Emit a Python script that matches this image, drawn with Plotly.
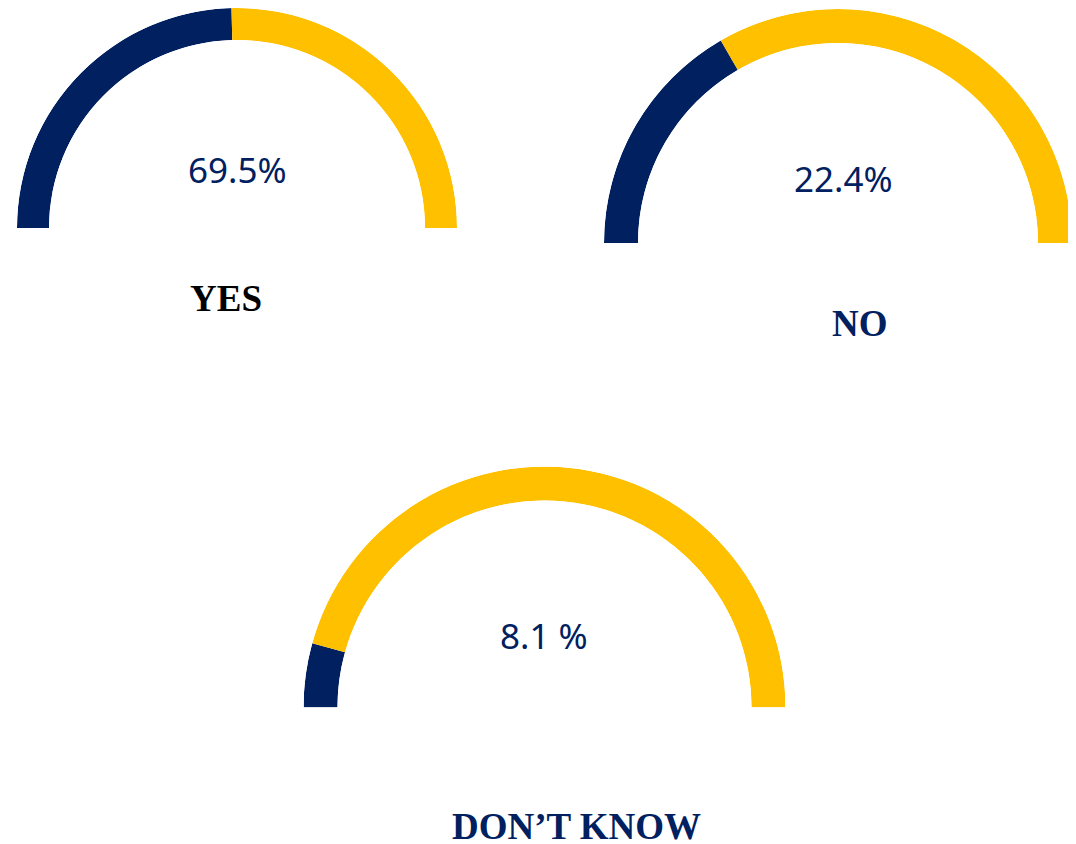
import plotly.graph_objects as go

categories = ["YES", "NO", "DON\u2019T KNOW"]
value_labels = ["69.5%", "22.4%", "8.1 %"]
# share of the half ring drawn in navy
navy_arc_pct = [49.2, 33.3, 8.6]

NAVY = "#002060"
GOLD = "#FFC000"

# the page body has an 8px margin, so the figure is a bit smaller than the window
OFF = 8
W, H = 1068, 836

# gauge placement in window pixels: centre x, flat-bottom y, outer radius, ring thickness
gauges = [
    (237, 228, 220, 32),
    (838, 243, 234, 34),
    (544.5, 707.5, 241, 34),
]
value_pos = [(237, 169.5), (843, 178.7), (543.7, 635)]
label_pos = [(225.5, 298), (859.5, 323), (576, 826)]
label_colors = ["black", NAVY, NAVY]


def px_x(x):
    return min(max((x - OFF) / W, 0), 1)


def px_y(y):
    return min(max(1 - (y - OFF) / H, 0), 1)


fig = go.Figure()
layout_polars = {}

for i, (cat, pct) in enumerate(zip(categories, navy_arc_pct)):
    navy_deg = 180 * pct / 100
    rest_deg = 180 - navy_deg
    name = "polar" if i == 0 else f"polar{i + 1}"
    fig.add_trace(go.Barpolar(
        r=[1, 1],
        theta=[navy_deg / 2, navy_deg + rest_deg / 2],
        width=[navy_deg, rest_deg],
        marker=dict(color=[NAVY, GOLD], line=dict(width=0)),
        subplot=name,
        name=cat,
        showlegend=False,
        hoverinfo="skip",
    ))

    cx, cy, r, t = gauges[i]
    layout_polars[name] = dict(
        domain=dict(x=[px_x(cx - r), px_x(cx + r)],
                    y=[px_y(cy), px_y(cy - r)]),
        sector=[0, 180],
        hole=1 - t / r,
        bgcolor="rgba(0,0,0,0)",
        radialaxis=dict(visible=False, range=[0, 1], showgrid=False, showline=False),
        angularaxis=dict(visible=False, direction="clockwise", rotation=180,
                         showgrid=False, showline=False),
    )

    vx, vy = value_pos[i]
    fig.add_annotation(
        x=px_x(vx), y=px_y(vy), xref="paper", yref="paper",
        text=value_labels[i], showarrow=False,
        xanchor="center", yanchor="middle",
        font=dict(family="Noto Sans", size=35, color=NAVY),
    )
    lx, ly = label_pos[i]
    fig.add_annotation(
        x=px_x(lx), y=px_y(ly), xref="paper", yref="paper",
        text="<b>" + cat + "</b>", showarrow=False,
        xanchor="center", yanchor="middle",
        font=dict(family="Liberation Serif", size=37, color=label_colors[i]),
    )

fig.update_layout(
    **layout_polars,
    width=W,
    height=H,
    margin=dict(t=0, b=0, l=0, r=0),
    plot_bgcolor="white",
    paper_bgcolor="white",
)

fig.write_html("out.html")
